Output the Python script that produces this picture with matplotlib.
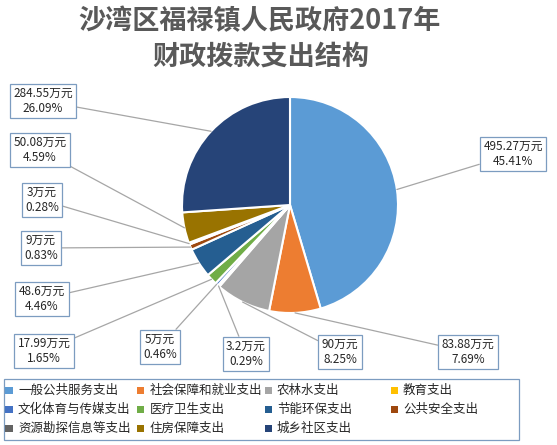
import numpy as np
import matplotlib
matplotlib.use('Agg')
import matplotlib.pyplot as plt
from matplotlib.patches import Rectangle

plt.rcParams['font.family'] = ['Noto Sans CJK SC', 'DejaVu Sans']

# data
categories = ['一般公共服务支出', '社会保障和就业支出', '农林水支出', '教育支出',
              '文化体育与传媒支出', '医疗卫生支出', '节能环保支出', '公共安全支出',
              '资源勘探信息等支出', '住房保障支出', '城乡社区支出']
values = [495.27, 83.88, 90, 3.2, 5, 17.99, 48.6, 9, 3, 50.08, 284.55]
colors = ['#5B9BD5', '#ED7D31', '#A5A5A5', '#FFC000', '#4472C4', '#70AD47',
          '#255E91', '#9E480E', '#636363', '#997300', '#264478']

# label box centres (image pixels)
label_pos = [(513, 154), (468, 352), (340, 352), (246, 354), (160, 347), (44, 351),
             (42, 299), (41, 248), (42, 200), (40, 150), (43, 101)]

W, H = 557, 445
fig = plt.figure(figsize=(W / 100, H / 100), dpi=100)

cx, cy, r = 290, 205, 108
ax = fig.add_axes([(cx - r) / W, (H - cy - r) / H, 2 * r / W, 2 * r / H])
wedges, _ = ax.pie(values, colors=colors, startangle=90, counterclock=False,
                   radius=1, wedgeprops=dict(edgecolor='white', linewidth=1.5))
ax.set_xlim(-1, 1)
ax.set_ylim(-1, 1)
ax.set_aspect('equal')
ax.axis('off')

total = sum(values)
for w, v, (lx, ly) in zip(wedges, values, label_pos):
    ang = np.deg2rad((w.theta1 + w.theta2) / 2)
    txt = f'{v:g}万元\n{v / total * 100:.2f}%'
    ax.annotate(txt, xy=(np.cos(ang), np.sin(ang)), xycoords='data',
                xytext=(lx, H - ly), textcoords='figure pixels',
                ha='center', va='center', fontsize=8.5, color='#262626',
                linespacing=1.15, annotation_clip=False,
                bbox=dict(boxstyle='square,pad=0.3', fc='white', ec='#7C9CC0', lw=0.9),
                arrowprops=dict(arrowstyle='-', color='#A6A6A6', lw=0.9,
                                shrinkA=0, shrinkB=0))

# title
fig.text(260 / W, 1 - 21 / H, '沙湾区福禄镇人民政府2017年', ha='center', va='center',
         fontsize=19.5, fontweight='semibold', color='#595959')
fig.text(261 / W, 1 - 57 / H, '财政拨款支出结构', ha='center', va='center',
         fontsize=19.5, fontweight='semibold', color='#595959')

# legend (drawn by hand to keep Excel-like fixed columns)
fig.patches.append(Rectangle((4 / W, 1 - 440 / H), 515 / W, 61 / H,
                             transform=fig.transFigure, fc='white', ec='#7C9CC0', lw=0.9))
col_x = [9, 141, 268, 394]
row_y = [390, 409, 428]
for i, (name, c) in enumerate(zip(categories, colors)):
    row, col = divmod(i, 4)
    x, y = col_x[col], row_y[row]
    fig.patches.append(Rectangle((x / W - 3.5 / W, 1 - (y + 3.5) / H), 7 / W, 7 / H,
                                 transform=fig.transFigure, fc=c, ec='none'))
    fig.text((x + 9) / W, 1 - y / H, name, ha='left', va='center',
             fontsize=9, color='#262626')

fig.savefig('out.png', dpi=100)
